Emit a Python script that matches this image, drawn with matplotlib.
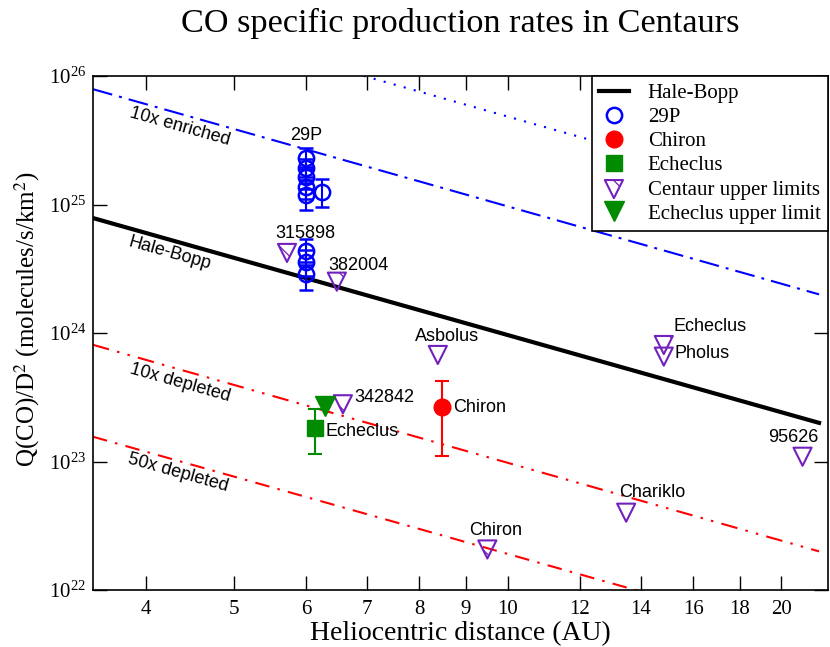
import matplotlib
matplotlib.use('Agg')
import matplotlib.pyplot as plt
from matplotlib.lines import Line2D
from matplotlib.ticker import LogLocator, LogFormatterMathtext, NullLocator

# model lines (power laws, straight in log-log) given by their two end points
line_r = [3.5, 22.0]
hb_q = [7.85e24, 2.0e23]          # Hale-Bopp
enr10_q = [7.9e25, 2.0e24]        # 10x enriched
enr50_q = [3.95e26, 1.0e25]       # 50x enriched (dotted)
dep10_q = [8.1e23, 2.0e22]        # 10x depleted
dep50_q = [1.56e23, 3.95e21]      # 50x depleted

# 29P detections
r_29p = [6.0, 6.0, 6.0, 6.0, 6.0, 6.25, 6.0, 6.0, 6.0]
q_29p = [2.31e25, 1.92e25, 1.64e25, 1.37e25, 1.19e25, 1.26e25, 4.37e24, 3.59e24, 2.86e24]
e_29p = [0.43e25, 0.36e25, 0.31e25, 0.27e25, 0.28e25, 0.31e25, 1.0e24, 0.8e24, 0.7e24]

# Chiron detection
r_chiron = [8.48]
q_chiron = [2.67e23]
e_chiron = [[1.57e23], [1.59e23]]

# Echeclus detection
r_echeclus = [6.14]
q_echeclus = [1.83e23]
e_echeclus = [[0.69e23], [0.72e23]]

# Centaur upper limits
ul_names = ['315898', '382004', '342842', 'Asbolus', 'Echeclus', 'Pholus', '95626', 'Chariklo', 'Chiron']
ul_r = [5.72, 6.49, 6.59, 8.38, 14.85, 14.85, 21.1, 13.5, 9.5]
ul_q = [4.2e24, 2.51e24, 2.79e23, 6.75e23, 8.07e23, 6.55e23, 1.09e23, 4.0e22, 2.07e22]

# Echeclus upper limit
r_ech_ul = [6.30]
q_ech_ul = [2.72e23]

xticks = [4, 5, 6, 7, 8, 9, 10, 12, 14, 16, 18, 20]

purple = '#7221bc'
green = '#008b00'

plt.rcParams['font.family'] = 'Liberation Serif'
plt.rcParams['mathtext.fontset'] = 'stix'
plt.rcParams['hatch.color'] = purple
plt.rcParams['hatch.linewidth'] = 0.9

fig = plt.figure(figsize=(8.3, 6.47), dpi=100)
ax = fig.add_axes([0.112, 0.088, 0.8855, 0.7945])
ax.set_xscale('log')
ax.set_yscale('log')

ax.plot(line_r, hb_q, color='k', lw=3, zorder=2)
ax.plot(line_r, enr10_q, color='blue', lw=1.5, dashes=(9.6, 3.4, 1.4, 3.4), zorder=2)
ax.plot(line_r, enr50_q, color='blue', lw=1.5, dashes=(1, 4), zorder=2)
ax.plot(line_r, dep10_q, color='red', lw=1.5, dashes=(8, 4, 1.2, 4, 1.2, 4), zorder=2)
ax.plot(line_r, dep50_q, color='red', lw=1.5, dashes=(7, 4, 1.2, 4), zorder=2)

ax.errorbar(r_29p, q_29p, yerr=e_29p, fmt='o', mfc='none', mec='blue', mew=1.8, ms=11,
            ecolor='blue', elinewidth=1.5, capsize=5, capthick=1.5, zorder=4)
ax.errorbar(r_chiron, q_chiron, yerr=e_chiron, fmt='o', color='red', ms=12,
            elinewidth=1.5, capsize=5, capthick=1.5, zorder=4)
ax.errorbar(r_echeclus, q_echeclus, yerr=e_echeclus, fmt='s', color=green, ms=11,
            elinewidth=1.5, capsize=5, capthick=1.5, zorder=4)
ul = ax.scatter(ul_r, ul_q, marker='v', s=170, facecolors='none', edgecolors=purple,
                linewidths=1.5, hatch='\\', zorder=5)
ax.plot(r_ech_ul, q_ech_ul, 'v', color=green, ms=15, zorder=5)

# labels
sans = 'Liberation Sans'
fs = 13
ax.text(6.0, 3.47e25, '29P', family=sans, fontsize=fs, ha='center', va='center')
ax.text(6.0, 6.0e24, '315898', family=sans, fontsize=fs, ha='center', va='center')
ax.text(6.86, 3.38e24, '382004', family=sans, fontsize=fs, ha='center', va='center')
ax.text(6.78, 3.14e23, '342842', family=sans, fontsize=fs, ha='left', va='center')
ax.text(6.30, 1.71e23, 'Echeclus', family=sans, fontsize=fs, ha='left', va='center')
ax.text(8.57, 9.36e23, 'Asbolus', family=sans, fontsize=fs, ha='center', va='center')
ax.text(15.2, 1.12e24, 'Echeclus', family=sans, fontsize=fs, ha='left', va='center')
ax.text(15.25, 6.98e23, 'Pholus', family=sans, fontsize=fs, ha='left', va='center')
ax.text(8.71, 2.64e23, 'Chiron', family=sans, fontsize=fs, ha='left', va='center')
ax.text(20.6, 1.54e23, '95626', family=sans, fontsize=fs, ha='center', va='center')
ax.text(14.43, 5.75e22, 'Chariklo', family=sans, fontsize=fs, ha='center', va='center')
ax.text(9.69, 2.89e22, 'Chiron', family=sans, fontsize=fs, ha='center', va='center')

rot = -15.75
ax.text(4.36, 4.03e25, '10x enriched', family=sans, fontsize=fs, rotation=rot,
        rotation_mode='anchor', ha='center', va='center')
ax.text(4.25, 4.2e24, 'Hale-Bopp', family=sans, fontsize=fs, rotation=rot,
        rotation_mode='anchor', ha='center', va='center')
ax.text(4.36, 4.08e23, '10x depleted', family=sans, fontsize=fs, rotation=rot,
        rotation_mode='anchor', ha='center', va='center')
ax.text(4.34, 8.15e22, '50x depleted', family=sans, fontsize=fs, rotation=rot,
        rotation_mode='anchor', ha='center', va='center')

ax.set_xlim(3.5, 22.5)
ax.set_ylim(1e22, 1e26)
ax.set_xticks(xticks, labels=[str(t) for t in xticks])
ax.xaxis.set_minor_locator(NullLocator())
ax.yaxis.set_major_locator(LogLocator(base=10, numticks=10))
ax.yaxis.set_major_formatter(LogFormatterMathtext())
ax.yaxis.set_minor_locator(NullLocator())
ax.tick_params(which='both', direction='in', top=True, right=True, length=10, width=1, labelsize=15)
ax.tick_params(axis='x', pad=7)
ax.tick_params(axis='y', pad=5)
for sp in ax.spines.values():
    sp.set_linewidth(1.2)

ax.set_xlabel('Heliocentric distance (AU)', fontsize=20, labelpad=2)
ax.set_ylabel(r'Q(CO)/D$^2$ (molecules/s/km$^2$)', fontsize=18)
ax.yaxis.set_label_coords(-0.069, 0.527)
ax.set_title('CO specific production rates in Centaurs', fontsize=24.7, pad=32)

handles = [
    Line2D([], [], color='k', lw=3),
    Line2D([], [], ls='none', marker='o', mfc='none', mec='blue', mew=1.8, ms=11),
    Line2D([], [], ls='none', marker='o', color='red', ms=12),
    Line2D([], [], ls='none', marker='s', color=green, ms=11),
    ul,
    Line2D([], [], ls='none', marker='v', color=green, ms=15),
]
labels = ['Hale-Bopp', '29P', 'Chiron', 'Echeclus', 'Centaur upper limits', 'Echeclus upper limit']
leg = ax.legend(handles, labels, loc='upper right', borderaxespad=0, fancybox=False,
                edgecolor='k', framealpha=1, fontsize=15, labelspacing=0.22,
                handlelength=1.45, handletextpad=0.9, borderpad=0.35)
leg.get_frame().set_linewidth(1.2)

fig.savefig('out.png', dpi=100)
